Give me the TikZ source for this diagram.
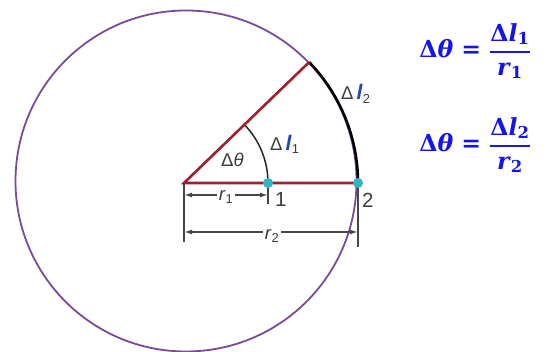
\documentclass[tikz,border=0pt]{standalone}
\usepackage{amsmath}
\usepackage{fontspec}
\usetikzlibrary{arrows.meta,calc}
\setmainfont{Liberation Sans}
\newfontfamily\eqfont{DejaVu Serif}
\definecolor{circpurple}{RGB}{120,75,155}
\definecolor{radred}{RGB}{160,30,45}
\definecolor{dotcyan}{RGB}{50,180,195}
\definecolor{dimgray}{RGB}{70,70,70}
\definecolor{lblgray}{RGB}{60,60,60}
\definecolor{lblue}{RGB}{35,75,170}
\definecolor{eqblue}{RGB}{20,20,235}
\newcommand{\eqtxt}[1]{\text{\eqfont\bfseries #1}}
\newcommand{\myell}{\textcolor{lblue}{\fontsize{21}{22}\selectfont\textbf{\textit{l}}}}
\tikzset{
  dimline/.style={dimgray, line width=1.5pt},
  dimarrow/.style={dimline, {Latex[length=8pt,width=5pt]}-{Latex[length=8pt,width=5pt]}},
  lbl/.style={text=lblgray, inner sep=0pt, font=\fontsize{18.5}{20}\selectfont},
  numlbl/.style={text=lblgray, inner sep=0pt, font=\fontsize{20.5}{22}\selectfont},
  dimlbl/.style={text=lblgray, fill=white, inner sep=1.5pt, font=\fontsize{18.5}{20}\selectfont},
  eq/.style={text=eqblue, inner sep=0pt, font=\fontsize{23.5}{27}\selectfont\eqfont\bfseries},
  dot/.style={circle, fill=dotcyan, minimum size=10pt, inner sep=0pt}
}
\begin{document}
\begin{tikzpicture}[x=1pt,y=1pt]
\useasboundingbox (0,0) rectangle (548,352);
% big circle
\coordinate (C) at (186,171);
\draw[circpurple, line width=1.8pt] (C) circle (170.5);
% sector
\coordinate (O) at (184,169);
\coordinate (P1) at (268,169);
\coordinate (P2) at (358,169);
\coordinate (T) at ($(O)+(44:174)$);
\draw[black, line width=2.6pt] (P2) arc[start angle=0, end angle=44, radius=174];
\draw[black!85, line width=1.5pt] (P1) arc[start angle=0, end angle=44, radius=84];
\draw[radred, line width=2.6pt] (T) -- (O) -- (P2);
% dimension ticks
\coordinate (L0) at (184,110);
\coordinate (L1) at (268,148);
\coordinate (L2) at (358,105);
\draw[dimline] (O) -- (L0);
\draw[dimline] (P1) -- (L1);
\draw[dimline] (P2) -- (L2);
% dimension arrows
\coordinate (A1) at (184,157);
\coordinate (B1) at (268,157);
\coordinate (A2) at (184,120);
\coordinate (B2) at (358,120);
\draw[dimarrow] (A1) -- (B1);
\draw[dimarrow] (A2) -- (B2);
\node[dimlbl] (r1) at (226,155) {\textit{r}\textsubscript{1}};
\node[dimlbl] (r2) at (272,116) {\textit{r}\textsubscript{2}};
% dots
\node[dot] (d1) at (P1) {};
\node[dot] (d2) at (P2) {};
% labels
\node[numlbl, anchor=base west] (n1) at (275,145) {1};
\node[numlbl, anchor=base west] (n2) at (362,144) {2};
\node[lbl, anchor=base west] (dth) at (221,185) {Δ\textit{θ}};
\node[lbl, anchor=base west] (dl1) at (270,201) {Δ\,\myell\textsubscript{1}};
\node[lbl, anchor=base west] (dl2) at (341,252) {Δ\,\myell\textsubscript{2}};
% equations
\node[eq] (eq1) at (475,301) {Δ\textit{θ} = $\genfrac{}{}{2pt}{0}{\eqtxt{Δ\textit{l}\textsubscript{1}}}{\eqtxt{\textit{r}\textsubscript{1}}}$};
\node[eq] (eq2) at (475,207) {Δ\textit{θ} = $\genfrac{}{}{2pt}{0}{\eqtxt{Δ\textit{l}\textsubscript{2}}}{\eqtxt{\textit{r}\textsubscript{2}}}$};
\end{tikzpicture}
\end{document}
